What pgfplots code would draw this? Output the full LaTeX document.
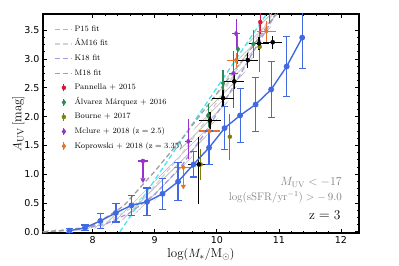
\documentclass[border=0pt]{standalone}
\usepackage{pgfplots}
\pgfplotsset{compat=1.18}
\usepackage{pgfplotstable}
\usepgfplotslibrary{fillbetween}
\usetikzlibrary{patterns.meta}
\usepackage{fontspec}
\newfontfamily\dejavu{DejaVu Sans}

\definecolor{cblue}{RGB}{65,105,225}
\definecolor{ccyan}{RGB}{70,228,240}
\definecolor{camgray}{RGB}{212,212,212}
\definecolor{ck18}{RGB}{165,155,225}
\definecolor{cm18}{RGB}{160,160,160}
\definecolor{cred}{RGB}{220,20,60}
\definecolor{cgreen}{RGB}{46,139,87}
\definecolor{colive}{RGB}{128,128,0}
\definecolor{cpurple}{RGB}{153,50,204}
\definecolor{corange}{RGB}{230,115,40}

\pgfplotstableread{
x y e
7.625 0.02 0.04
7.875 0.07 0.05
8.125 0.19 0.135
8.375 0.33 0.16
8.625 0.46 0.17
8.875 0.52 0.24
9.125 0.66 0.27
9.375 0.87 0.33
9.625 1.17 0.22
9.875 1.46 0.29
10.125 1.80 0.37
10.375 2.02 0.47
10.625 2.21 0.47
10.875 2.47 0.48
11.125 2.87 0.52
11.375 3.37 0.53
}\bluedata

\pgfplotstableread{
x y ex ep em
9.71 1.17 0.17 0.47 0.69
9.89 1.93 0.18 0.15 0.15
10.10 2.32 0.18 0.14 0.14
10.28 2.61 0.16 0.13 0.13
10.50 2.98 0.16 0.13 0.13
10.68 3.27 0.16 0.11 0.11
10.90 3.29 0.15 0.11 0.11
}\blackdata

\pgfplotstableread{
x y e
10.70 3.64 0.20
}\reddata

\pgfplotstableread{
x y e
9.86 2.02 0.20
10.10 2.58 0.22
10.34 3.17 0.25
10.59 3.26 0.25
10.85 3.95 0.33
}\greendata

\pgfplotstableread{
x y e
9.74 1.17 0.27
10.21 1.65 0.40
10.69 3.21 0.43
}\olivedata

\pgfplotstableread{
x y ex ep em
9.54 1.57 0.06 0.38 0.30
10.27 2.75 0.07 0.38 0.60
10.31 3.44 0.06 0.26 0.26
}\purpledata

\pgfplotstableread{
x y ex e
9.88 1.75 0.17 0.10
10.31 2.98 0.15 0.12
10.80 3.48 0.15 0.18
}\orangedata

\pgfplotsset{errleg/.style={legend image code/.code={%
  \draw[##1, mark=none, line width=1.1pt] (0.3cm,-0.13cm)--(0.3cm,0.13cm);
  \draw[##1] plot coordinates {(0.3cm,0cm)};}}}

\begin{document}
\begin{tikzpicture}
\begin{axis}[
  scale only axis, width=316pt, height=219pt,
  xmin=7.2, xmax=12.29, ymin=-0.02, ymax=3.78,
  xtick={8,9,10,11,12}, ytick={0,0.5,1,1.5,2,2.5,3,3.5},
  minor x tick num=4, minor y tick num=3,
  tick align=inside,
  major tick length=4pt, minor tick length=2pt,
  every tick/.style={black, line width=0.8pt},
  axis line style={line width=1.2pt},
  ticklabel style={font=\dejavu\fontsize{9.5}{10}\selectfont},
  /pgf/number format/assume math mode=true,
  yticklabel style={/pgf/number format/.cd, fixed, fixed zerofill, precision=1},
  xticklabel style={/pgf/number format/.cd, fixed, precision=0},
  xlabel={$\log(M_*/{\rm M_\odot})$},
  ylabel={$A_{\rm UV}\,[{\rm mag}]$},
  label style={font=\fontsize{13}{14}\selectfont},
  xlabel style={yshift=2pt},
  ylabel style={yshift=-7pt},
  legend cell align=left,
  legend style={at={(rel axis cs:0.027,0.965)}, anchor=north west, draw=none, fill=none,
    font=\fontsize{8}{9}\selectfont, row sep=3.6pt,
    nodes={inner sep=1.5pt, text height=6pt, text depth=2pt}},
]
% hatched band
\addplot[name path=bu, draw=none, forget plot] coordinates {(7.2,0.02) (7.8,0.08) (8.2,0.20) (8.6,0.45) (9.0,0.88) (9.4,1.40) (9.8,2.05) (10.2,2.75) (10.6,3.45) (10.85,3.80)};
\addplot[name path=bl, draw=none, forget plot] coordinates {(7.2,0.0) (7.8,0.02) (8.2,0.08) (8.6,0.26) (9.0,0.55) (9.4,1.00) (9.8,1.60) (10.2,2.30) (10.6,3.05) (11.0,3.80)};
\addplot[pattern={Lines[angle=45,distance=4.5pt,line width=0.6pt]}, pattern color=gray!60, draw=none, forget plot] fill between[of=bu and bl];

% fits
\addplot[ccyan, line width=1.3pt, dash pattern=on 5pt off 3pt] coordinates {(8.4375,0.0) (10.80,3.78)};
\addlegendentry{P15 fit}
\addplot[camgray, line width=1.3pt, dash pattern=on 5pt off 3pt] coordinates {(7.2,0.0) (7.8,0.05) (8.2,0.15) (8.6,0.40) (9.0,0.80) (9.4,1.30) (9.8,1.90) (10.2,2.60) (10.6,3.30) (10.9,3.78)};
\addlegendentry{\'AM16 fit}
\addplot[ck18, line width=1.3pt, dash pattern=on 5pt off 3pt] coordinates {(7.2,0.0) (7.8,0.04) (8.2,0.13) (8.6,0.33) (9.0,0.65) (9.4,1.10) (9.8,1.70) (10.2,2.40) (10.6,3.15) (10.95,3.78)};
\addlegendentry{K18 fit}
\addplot[cm18, line width=1.3pt, dash pattern=on 5pt off 3pt] coordinates {(7.2,0.0) (7.6,0.03) (8.0,0.10) (8.5,0.45) (9.0,1.05) (9.5,1.70) (10.0,2.40) (10.5,3.10) (10.95,3.78)};
\addlegendentry{M18 fit}

% literature data
\addplot[cred, only marks, mark=*, mark size=2pt, errleg,
  error bars/.cd, y dir=both, y explicit, error bar style={line width=1.1pt}, error mark=none]
  table[x=x, y=y, y error=e]{\reddata};
\addlegendentry{Pannella $+$ 2015}
\addplot[cgreen, only marks, mark=diamond*, mark size=2.6pt, errleg,
  error bars/.cd, y dir=both, y explicit, error bar style={line width=1.1pt}, error mark=none]
  table[x=x, y=y, y error=e]{\greendata};
\addlegendentry{\'Alvarez M\'arquez $+$ 2016}
\addplot[colive, only marks, mark=*, mark size=2pt, errleg,
  error bars/.cd, y dir=both, y explicit, error bar style={line width=1.1pt}, error mark=none]
  table[x=x, y=y, y error=e]{\olivedata};
\addlegendentry{Bourne $+$ 2017}
\addplot[cpurple, only marks, mark=diamond*, mark size=2.6pt, errleg,
  error bars/.cd, x dir=both, x explicit, y dir=both, y explicit, error bar style={line width=1.1pt}, error mark=none]
  table[x=x, y=y, x error=ex, y error plus=ep, y error minus=em]{\purpledata};
\addlegendentry{Mclure $+$ 2018 $({\rm z}=2.5)$}
\addplot[corange, only marks, mark=diamond*, mark size=2.6pt, errleg,
  error bars/.cd, x dir=both, x explicit, y dir=both, y explicit, error bar style={line width=1.1pt}, error mark=none]
  table[x=x, y=y, x error=ex, y error=e]{\orangedata};
\addlegendentry{Koprowski $+$ 2018 $({\rm z}=3.35)$}

% upper limits
\addplot[cpurple, only marks, mark=*, mark size=2pt, forget plot,
  error bars/.cd, x dir=both, x explicit, y dir=minus, y explicit, error bar style={line width=1.1pt}, error mark=none]
  coordinates {(8.81,1.23) +- (0.08,0.30)};
\addplot[cpurple, only marks, mark=triangle*, mark size=2.6pt, mark options={rotate=180}, forget plot]
  coordinates {(8.81,0.90)};
\addplot[corange, only marks, mark=diamond*, mark size=2.6pt, forget plot,
  error bars/.cd, x dir=both, x explicit, y dir=minus, y explicit, error bar style={line width=1.1pt}, error mark=none]
  coordinates {(9.46,1.12) +- (0.15,0.30)};
\addplot[corange, only marks, mark=triangle*, mark size=2.6pt, mark options={rotate=180}, forget plot]
  coordinates {(9.46,0.79)};

% black points
\addplot[black, only marks, mark=*, mark size=2.1pt, forget plot,
  error bars/.cd, x dir=both, x explicit, y dir=both, y explicit, error bar style={line width=1.1pt}, error mark=none]
  table[x=x, y=y, x error=ex, y error plus=ep, y error minus=em]{\blackdata};

% main blue relation
\addplot[cblue, line width=1.4pt, mark=*, mark size=2.2pt, forget plot,
  error bars/.cd, y dir=both, y explicit, error bar style={line width=1.2pt},
  error mark options={rotate=90, mark size=3.6pt, line width=1.2pt, cblue}]
  table[x=x, y=y, y error=e]{\bluedata};

\node[anchor=east, text=gray, font=\fontsize{12}{13}\selectfont] at (axis cs:12.07,0.86) {$M_{\rm UV}<-17$};
\node[anchor=east, text=gray, font=\fontsize{11}{12}\selectfont] at (axis cs:12.07,0.60) {$\log({\rm sSFR/yr^{-1}})>-\,9.0$};
\node[anchor=east, font=\fontsize{13.5}{14}\selectfont] at (axis cs:12.05,0.29) {${\rm z=3}$};
\end{axis}
\path ([xshift=-43pt,yshift=-33pt]current axis.south west) rectangle ([xshift=40pt,yshift=14pt]current axis.north east);
\end{tikzpicture}
\end{document}
